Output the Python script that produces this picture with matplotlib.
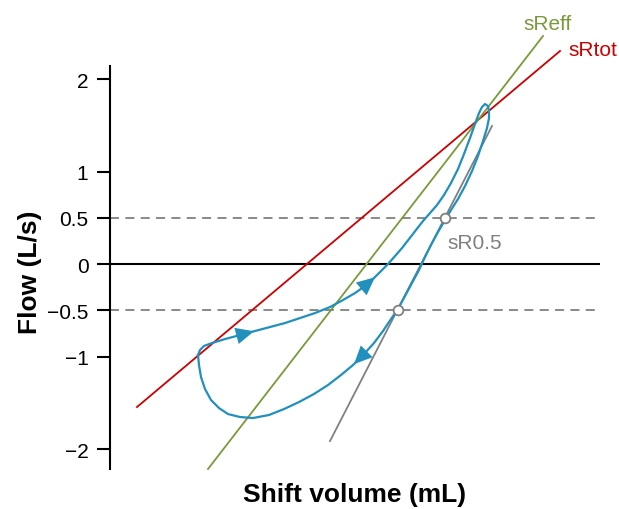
import matplotlib
matplotlib.use("Agg")
import matplotlib.pyplot as plt

plt.rcParams['font.family'] = ['Liberation Sans', 'DejaVu Sans']

# y axis ticks
ytick_vals = [2, 1, 0.5, 0, -0.5, -1, -2]
ytick_labels = ['2', '1', '0.5', '0', '\u22120.5', '\u22121', '\u22122']

# flow-volume loop (volume, flow)
loop_vol = [0.88, 0.90, 0.94, 1.02, 1.15, 1.30, 1.45, 1.60, 1.75, 1.90, 2.05, 2.20,
            2.33, 2.45, 2.55, 2.64, 2.71, 2.78, 2.85, 2.92, 2.99, 3.06, 3.13, 3.20,
            3.27, 3.34, 3.41, 3.48, 3.54, 3.60, 3.65, 3.69, 3.72, 3.75, 3.78, 3.79,
            3.79, 3.77, 3.73, 3.68, 3.62, 3.55, 3.48, 3.41, 3.35, 3.28, 3.21, 3.15,
            3.09, 3.02, 2.95, 2.88, 2.81, 2.73, 2.64, 2.54, 2.43, 2.31, 2.18, 2.04,
            1.89, 1.74, 1.59, 1.43, 1.30, 1.18, 1.09, 1.01, 0.95, 0.91, 0.89, 0.88]
loop_flow = [-0.984, -0.930, -0.886, -0.854, -0.811, -0.768, -0.724, -0.681, -0.638,
             -0.584, -0.530, -0.465, -0.389, -0.314, -0.238, -0.151, -0.076, 0.0,
             0.086, 0.173, 0.270, 0.368, 0.465, 0.551, 0.638, 0.746, 0.876, 1.027,
             1.189, 1.362, 1.514, 1.632, 1.697, 1.730, 1.708, 1.654, 1.578, 1.470,
             1.330, 1.168, 1.005, 0.843, 0.703, 0.584, 0.476, 0.346, 0.205, 0.076,
             -0.065, -0.205, -0.346, -0.486, -0.595, -0.724, -0.854, -0.973, -1.092,
             -1.200, -1.308, -1.405, -1.492, -1.568, -1.632, -1.665, -1.654, -1.622,
             -1.557, -1.470, -1.351, -1.222, -1.092, -0.984]

# arrow heads on the loop: (from, to)
arrows = [((1.28, -0.773), (1.44, -0.727)),
          ((2.52, -0.262), (2.65, -0.143)),
          ((2.58, -0.930), (2.44, -1.082))]

# resistance lines
srtot_x = [0.27, 4.50]
srtot_y = [-1.546, 2.303]
sreff_x = [0.98, 4.33]
sreff_y = [-2.216, 2.465]
sr05_x = [2.20, 3.82]
sr05_y = [-1.914, 1.492]
sr05_pts_x = [3.345, 2.88]
sr05_pts_y = [0.5, -0.5]

blue = '#2190bd'
red = '#cc0000'
green = '#789a3a'
gray = '#808080'

fig = plt.figure(figsize=(6.19, 5.10), dpi=100)
ax = fig.add_axes([110 / 619, 40 / 510, 490 / 619, 403 / 510])
ax.set_xlim(0, 4.9)
ax.set_ylim(-2.216, 2.141)

for s in ['top', 'right', 'bottom']:
    ax.spines[s].set_visible(False)
ax.spines['left'].set_linewidth(1.5)
ax.set_xticks([])
ax.set_yticks(ytick_vals)
ax.set_yticklabels(ytick_labels, fontsize=15)
ax.tick_params(axis='y', length=9.5, width=1.5, pad=6)

ax.axhline(0, color='black', lw=1.5)
for yv in [0.5, -0.5]:
    ax.axhline(yv, color=gray, lw=1.3, ls=(0, (5, 3.5)))

ax.plot(srtot_x, srtot_y, color=red, lw=1.3, clip_on=False)
ax.plot(sreff_x, sreff_y, color=green, lw=1.3, clip_on=False)
ax.plot(sr05_x, sr05_y, color=gray, lw=1.3)

ax.plot(loop_vol, loop_flow, color=blue, lw=1.6, solid_joinstyle='round')
for (p1, p2) in arrows:
    ax.annotate('', xy=p2, xytext=p1,
                arrowprops=dict(arrowstyle='-|>,head_length=0.65,head_width=0.3',
                                color=blue, lw=0, shrinkA=0, shrinkB=0,
                                mutation_scale=20))

ax.plot(sr05_pts_x, sr05_pts_y, 'o', ms=7, mfc='white', mec=gray, mew=1.3, zorder=5)

ax.text(4.13, 2.605, 'sReff', color=green, fontsize=15, va='center', clip_on=False)
ax.text(4.58, 2.324, 'sRtot', color=red, fontsize=15, va='center', clip_on=False)
ax.text(3.37, 0.238, 'sR0.5', color=gray, fontsize=15, va='center')

fig.text(30 / 619, 1 - 272 / 510, 'Flow (L/s)', rotation=90, fontsize=19,
         fontweight='bold', ha='center', va='center')
fig.text(355 / 619, 1 - 495 / 510, 'Shift volume (mL)', fontsize=19,
         fontweight='bold', ha='center', va='center')

plt.savefig('out.png', dpi=100)
